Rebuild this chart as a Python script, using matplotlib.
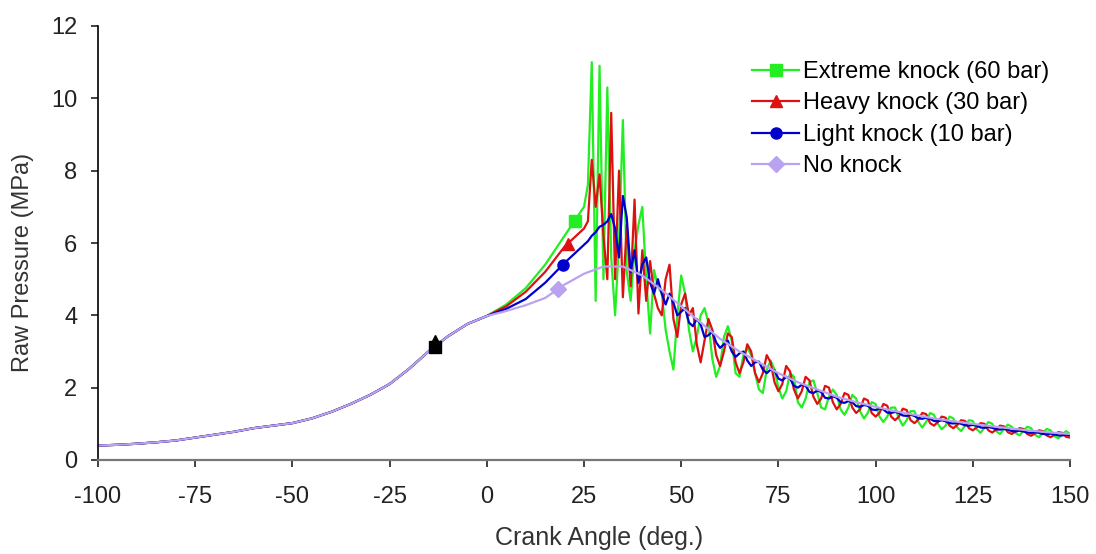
import numpy as np
import matplotlib
matplotlib.use("Agg")
import matplotlib.pyplot as plt
from matplotlib.lines import Line2D

plt.rcParams['font.family'] = ['Liberation Sans', 'DejaVu Sans']
plt.rcParams['axes.unicode_minus'] = False

# ---------------- data ----------------
# shared compression part (all series coincide)
angle_pre = [-100, -95, -90, -85, -80, -75, -70, -65, -60, -55, -50, -45, -40,
             -35, -30, -25, -20, -15, -10, -5]
pressure_pre = [0.40, 0.42, 0.45, 0.49, 0.54, 0.62, 0.70, 0.78, 0.88, 0.95, 1.02,
                1.15, 1.33, 1.55, 1.80, 2.10, 2.52, 3.00, 3.42, 3.76]

# early combustion (0..20 deg, 5 deg step)
angle_early = [0, 5, 10, 15, 20]
extreme_early = [3.98, 4.30, 4.75, 5.40, 6.20]
heavy_early = [3.98, 4.25, 4.65, 5.20, 5.90]
light_early = [3.98, 4.18, 4.45, 4.90, 5.45]

# knocking part (25..150 deg, 1 deg step)
angle_knock = list(range(25, 151))
extreme_knock = [
    7.0, 7.6, 11.0, 4.4, 10.9, 5.0, 10.3, 5.6, 4.0, 6.0,
    9.4, 5.2, 4.4, 5.8, 6.5, 7.0, 5.0, 3.5, 5.25, 4.8,
    4.6, 3.6, 3.0, 2.5, 4.0, 5.1, 4.6, 3.6, 3.0, 3.4,
    4.0, 4.2, 3.8, 2.8, 2.3, 2.6, 3.4, 3.7, 3.3, 2.4,
    2.3, 2.9, 3.1, 2.9, 2.4, 1.95, 1.85, 2.5, 2.75, 2.5,
    2.0, 1.7, 1.9, 2.4, 2.3, 1.6, 1.45, 1.7, 2.15, 2.2,
    1.85, 1.45, 1.4, 1.75, 1.95, 1.8, 1.4, 1.25, 1.45, 1.8,
    1.7, 1.35, 1.15, 1.3, 1.6, 1.55, 1.2, 1.05, 1.2, 1.45,
    1.45, 1.15, 0.95, 1.1, 1.35, 1.35, 1.05, 0.9, 1.05, 1.3,
    1.25, 1.0, 0.85, 0.95, 1.2, 1.15, 0.9, 0.8, 0.95, 1.1,
    1.08, 0.85, 0.75, 0.9, 1.05, 1.0, 0.8, 0.72, 0.85, 0.98,
    0.92, 0.75, 0.68, 0.8, 0.92, 0.88, 0.7, 0.63, 0.75, 0.86,
    0.82, 0.66, 0.6, 0.7, 0.8, 0.72]
heavy_knock = [
    6.4, 6.6, 8.3, 7.0, 7.9, 6.2, 5.0, 9.6, 5.0, 8.0,
    4.5, 6.5, 4.8, 7.2, 4.05, 5.8, 4.4, 5.5, 4.6, 4.2,
    4.0, 5.0, 5.4, 3.9, 3.4, 4.3, 4.6, 4.0, 4.2, 3.2,
    2.7, 3.3, 3.9, 3.6, 2.9, 2.6, 3.0, 3.5, 3.4, 2.7,
    2.4, 2.7, 3.2, 3.0, 2.4, 2.15, 2.4, 2.9, 2.7, 2.15,
    1.9, 2.1, 2.6, 2.45, 1.95, 1.7, 1.9, 2.3, 2.2, 1.75,
    1.55, 1.7, 2.05, 2.0, 1.6, 1.4, 1.55, 1.85, 1.8, 1.45,
    1.3, 1.4, 1.7, 1.65, 1.3, 1.2, 1.3, 1.55, 1.5, 1.2,
    1.1, 1.2, 1.42, 1.38, 1.1, 1.02, 1.12, 1.3, 1.27, 1.02,
    0.95, 1.05, 1.2, 1.17, 0.95, 0.88, 0.97, 1.1, 1.08, 0.88,
    0.82, 0.9, 1.02, 1.0, 0.82, 0.76, 0.84, 0.95, 0.93, 0.77,
    0.72, 0.79, 0.88, 0.86, 0.72, 0.67, 0.74, 0.82, 0.8, 0.68,
    0.63, 0.7, 0.77, 0.75, 0.64, 0.62]
light_knock = [
    5.95, 6.05, 6.2, 6.3, 6.45, 6.5, 6.6, 6.8, 6.4, 5.6,
    7.3, 6.7, 5.2, 5.8, 4.9, 5.4, 5.6, 4.9, 4.6, 5.0,
    4.6, 4.3, 4.6, 4.35, 4.0, 4.1, 4.2, 3.8, 3.7, 3.9,
    3.75, 3.4, 3.45, 3.55, 3.25, 3.1, 3.2, 3.3, 3.0, 2.85,
    2.95, 3.0, 2.75, 2.6, 2.7, 2.72, 2.5, 2.4, 2.5, 2.48,
    2.25, 2.2, 2.3, 2.25, 2.05, 2.0, 2.08, 2.05, 1.88, 1.85,
    1.92, 1.88, 1.72, 1.7, 1.76, 1.72, 1.6, 1.58, 1.63, 1.6,
    1.49, 1.47, 1.52, 1.5, 1.4, 1.38, 1.42, 1.4, 1.31, 1.3,
    1.33, 1.3, 1.23, 1.22, 1.25, 1.22, 1.15, 1.14, 1.17, 1.14,
    1.08, 1.07, 1.1, 1.07, 1.02, 1.01, 1.03, 1.0, 0.96, 0.95,
    0.97, 0.95, 0.9, 0.89, 0.91, 0.89, 0.85, 0.84, 0.86, 0.84,
    0.8, 0.79, 0.81, 0.79, 0.76, 0.75, 0.77, 0.75, 0.72, 0.71,
    0.73, 0.71, 0.68, 0.68, 0.7, 0.68]

# no knock (smooth), 0..150 deg, 5 deg step
angle_noknock = list(range(0, 151, 5))
noknock_post = [3.98, 4.12, 4.28, 4.48, 4.85, 5.15, 5.35, 5.35, 5.1, 4.7,
                4.25, 3.8, 3.35, 3.0, 2.7, 2.4, 2.15, 1.95, 1.75, 1.6,
                1.47, 1.35, 1.25, 1.15, 1.07, 1.0, 0.93, 0.87, 0.81, 0.76, 0.72]

labels = ["Extreme knock (60 bar)", "Heavy knock (30 bar)",
          "Light knock (10 bar)", "No knock"]
colors = ["#22ee22", "#dd1111", "#0000cc", "#b9a3f0"]
markers = ["s", "^", "o", "D"]
marker_angle = [22.6, 20.8, 19.5, 18.3]
common_marker_angle = -13.4

# ---------------- build series ----------------
series = [
    (angle_pre + angle_early + angle_knock, pressure_pre + extreme_early + extreme_knock),
    (angle_pre + angle_early + angle_knock, pressure_pre + heavy_early + heavy_knock),
    (angle_pre + angle_early + angle_knock, pressure_pre + light_early + light_knock),
    (angle_pre + angle_noknock, pressure_pre + noknock_post),
]

fig = plt.figure(figsize=(10.96, 5.54), dpi=100)
ax = fig.add_axes([98 / 1096, 94 / 554, 972 / 1096, 434 / 554])

for (xs, ys), c, m, ma in zip(series, colors, markers, marker_angle):
    ax.plot(xs, ys, color=c, lw=1.6, zorder=2)
    ax.plot([ma], [np.interp(ma, xs, ys)], marker=m, color=c, ms=8, ls='none', zorder=3)

# overlapping markers at the shared point
xs0, ys0 = series[0]
yc = np.interp(common_marker_angle, xs0, ys0)
ax.plot([common_marker_angle], [yc], marker='s', color='black', ms=8, ls='none', zorder=4)
ax.plot([common_marker_angle], [yc + 0.2], marker='^', color='black', ms=6, ls='none', zorder=4)

ax.set_xlim(-100, 150)
ax.set_ylim(0, 12)
ax.set_xticks([-100, -75, -50, -25, 0, 25, 50, 75, 100, 125, 150])
ax.set_yticks([0, 2, 4, 6, 8, 10, 12])

for s in ['top', 'right']:
    ax.spines[s].set_visible(False)
ax.spines['left'].set_color('black')
ax.spines['left'].set_linewidth(1.2)
ax.spines['bottom'].set_color('#777777')
ax.spines['bottom'].set_linewidth(1.6)

ax.tick_params(axis='x', direction='out', length=5, width=1.2, pad=14,
               labelsize=17, colors='#222222')
ax.tick_params(axis='y', direction='out', length=5, width=1.2, pad=10,
               labelsize=17, colors='#222222')

ax.set_xlabel("Crank Angle (deg.)", fontsize=18, color='#333333')
ax.set_ylabel("Raw Pressure (MPa)", fontsize=17, color='#333333')
ax.xaxis.set_label_coords(0.516, -0.152)
ax.yaxis.set_label_coords(-0.066, 0.455)

handles = [Line2D([], [], color=c, marker=m, lw=1.6, ms=8) for c, m in zip(colors, markers)]
fig.legend(handles, labels, loc='upper left',
           bbox_to_anchor=(752 / 1096, 1 - 61 / 554),
           frameon=False, fontsize=17, handlelength=2.0, handletextpad=0.15,
           labelspacing=0.4, borderpad=0, borderaxespad=0)

fig.savefig("out.png", dpi=100)
